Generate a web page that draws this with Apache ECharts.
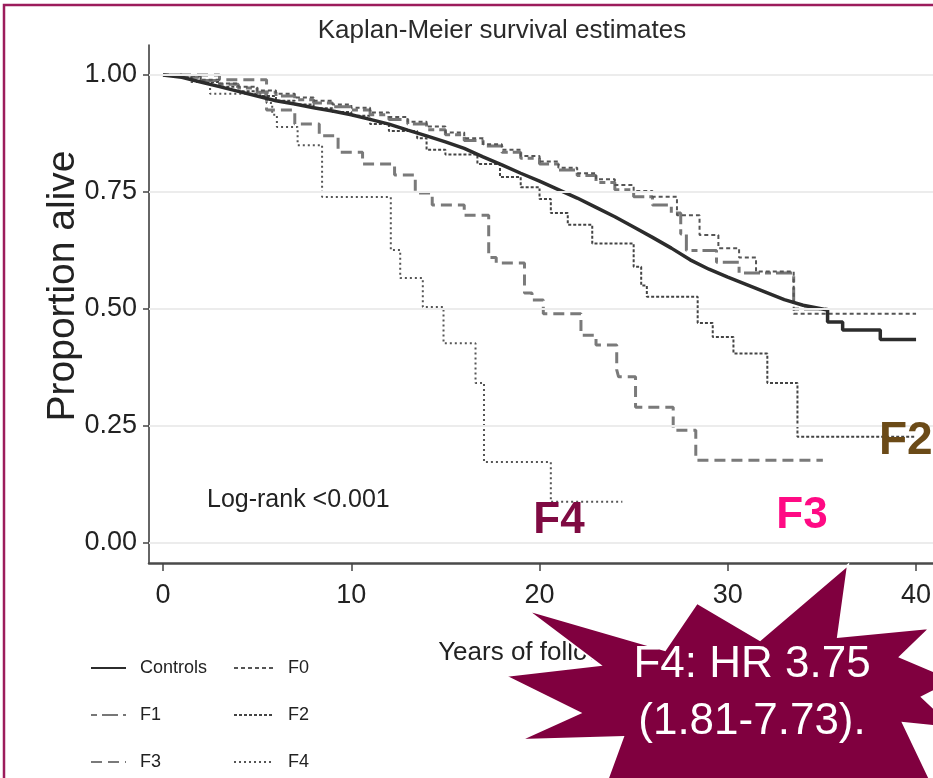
<!DOCTYPE html>
<html>
<head>
<meta charset="utf-8">
<script src="https://cdn.jsdelivr.net/npm/echarts@6/dist/echarts.min.js"></script>
<style>
html,body{margin:0;padding:0;background:#fff;}
#c{width:933px;height:778px;}
</style>
</head>
<body>
<div id="c"></div>
<script>
// ---- data ----
const xTicks = [0, 10, 20, 30, 40];
const yTicks = [0, 0.25, 0.5, 0.75, 1];
const seriesNames = ['Controls', 'F0', 'F1', 'F2', 'F3', 'F4'];

const controlsT = [0,1,2,3,4,5,6,7,8,9,10,11,12,13,14,15,16,17,18,19,20,21,22,23,24,25,26,27,28,29,30,31,32,33,34,35.3,35.3,36.1,36.1,38.1,38.1,40];
const controlsS = [1,0.995,0.985,0.975,0.965,0.955,0.945,0.938,0.93,0.923,0.915,0.905,0.895,0.882,0.87,0.857,0.843,0.825,0.808,0.79,0.773,0.755,0.737,0.717,0.697,0.675,0.653,0.63,0.605,0.585,0.568,0.552,0.536,0.52,0.508,0.498,0.472,0.472,0.455,0.455,0.435,0.435];

const f0T = [0,1,2,3,4,5,6,7,8,9,10,11,12,13,14,15,16,17,18,19,20,21,22,23,24,25,26,27.3,28.5,29.5,30.6,31.5,33.5,40];
const f0S = [1,0.997,0.99,0.982,0.975,0.967,0.96,0.952,0.945,0.937,0.93,0.92,0.91,0.9,0.89,0.877,0.865,0.852,0.84,0.827,0.815,0.802,0.79,0.777,0.765,0.752,0.74,0.70,0.658,0.63,0.61,0.58,0.49,0.49];

const f1T = [0,1,2,3,4,5,6,7,8,9,10,11,12,13,14,15,16,17,18,19,20,21,22,23,24,25,26,27,27.5,27.8,29.4,30.6,33.5,35.3];
const f1S = [1,0.995,0.988,0.98,0.972,0.963,0.955,0.947,0.94,0.932,0.925,0.915,0.905,0.895,0.883,0.872,0.86,0.848,0.835,0.822,0.81,0.797,0.785,0.77,0.755,0.74,0.722,0.705,0.66,0.625,0.60,0.577,0.50,0.50];

const f2T = [0,1,2,3,4,5,6,7,8,9,10,11,12,13.5,14,15,16.7,17.9,19,20,20.6,21.5,22.8,25.0,25.4,25.7,28.4,29.2,30.3,32.1,33.7,40];
const f2S = [1,0.995,0.985,0.975,0.965,0.955,0.945,0.937,0.929,0.921,0.913,0.895,0.88,0.865,0.84,0.83,0.81,0.782,0.76,0.735,0.705,0.68,0.64,0.59,0.55,0.526,0.47,0.44,0.405,0.342,0.227,0.227];

const f3T = [0,3,5.5,7,8.3,9.3,10.6,12.3,13.4,14.3,16,17.3,17.7,19.2,19.6,20.2,22.2,23.0,24.1,24.2,25.1,27.1,28.3,35.05];
const f3S = [1,0.99,0.925,0.895,0.87,0.835,0.81,0.786,0.748,0.722,0.70,0.61,0.598,0.534,0.519,0.49,0.444,0.423,0.37,0.355,0.29,0.241,0.177,0.177];

const f4T = [0,1.5,2.5,5.5,5.8,6.05,7.15,8.45,12.1,12.6,13.8,14.9,16.6,17.05,20.6,24.4];
const f4S = [1,0.985,0.96,0.94,0.915,0.889,0.85,0.739,0.626,0.566,0.504,0.427,0.342,0.173,0.088,0.088];

// ---- build ----
const FONT = '"Liberation Sans", Arial, sans-serif';
const zip = (t, s) => t.map((v, i) => [v, s[i]]);

function km(name, t, s, color, width, type, step) {
  return {
    name: name, type: 'line', data: zip(t, s), step: step ? 'end' : false,
    symbol: 'none', showSymbol: false, silent: true, animation: false,
    color: color,
    itemStyle: { color: color },
    lineStyle: { color: color, width: width, type: type, cap: 'butt' },
    z: 3
  };
}

function legendItem(name, left, top, w) {
  return {
    data: [name], orient: 'horizontal', left: left, top: top, padding: 0,
    itemWidth: w, itemHeight: 14, selectedMode: false,
    itemStyle: { opacity: 0, color: 'transparent', borderWidth: 0 },
    textStyle: { fontSize: 18, fontFamily: FONT, color: '#222', lineHeight: 18, padding: [0, 0, 0, 9] }
  };
}

const chart = echarts.init(document.getElementById('c'), null, { renderer: 'canvas' });

const starPts = [
  [527,610],[665,650],[697,603],[760,640],[848,565],[838,637],[930,628],[900,657],
  [955,680],[922,697],[955,728],[903,723],[935,790],[860,800],[760,830],[700,800],
  [600,800],[623,737],[520,740],[580,713],[505,676],[600,665]
];

const option = {
  backgroundColor: '#ffffff',
  animation: false,
  title: {
    text: 'Kaplan-Meier survival estimates',
    left: 497, top: 13, textAlign: 'center',
    textStyle: { fontFamily: FONT, fontSize: 26, fontWeight: 'normal', color: '#2a2a2a' }
  },
  grid: { left: 149, right: 0, top: 45, bottom: 215, containLabel: false, outerBoundsMode: 'none' },
  xAxis: {
    type: 'value', min: -0.744, max: 40.9,
    axisLine: { show: true, onZero: false, lineStyle: { color: '#4a4a4a', width: 2.5 } },
    axisTick: { show: true, length: 8, customValues: xTicks, lineStyle: { color: '#444', width: 1.5 } },
    axisLabel: { customValues: xTicks, fontSize: 27, fontFamily: FONT, color: '#222', margin: 19 },
    splitLine: { show: false },
    name: 'Years of follow-up', nameLocation: 'middle', nameGap: 77, nameMoveOverlap: false,
    nameTextStyle: { fontSize: 26, fontFamily: FONT, color: '#222' }
  },
  yAxis: {
    type: 'value', min: -0.0427, max: 1.064,
    axisLine: { show: true, onZero: false, lineStyle: { color: '#333', width: 1.5 } },
    axisTick: { show: true, length: 6, customValues: yTicks, lineStyle: { color: '#444', width: 1.5 } },
    axisLabel: { customValues: yTicks, fontSize: 27, fontFamily: FONT, color: '#222', margin: 12,
                 formatter: v => Number(v).toFixed(2) },
    splitLine: { show: false },
    name: 'Proportion alive', nameLocation: 'middle', nameGap: 66, nameRotate: 90, nameMoveOverlap: false,
    nameTextStyle: { fontSize: 39, fontFamily: FONT, color: '#222', padding: [0, 0, 0, 36] }
  },
  legend: [
    legendItem('Controls', 90, 659, 35),
    legendItem('F1', 90, 706, 35),
    legendItem('F3', 90, 753, 35),
    legendItem('F0', 233, 659, 40),
    legendItem('F2', 233, 706, 40),
    legendItem('F4', 233, 753, 40)
  ],
  series: [
    { name: 'gridlines', type: 'line', data: [], silent: true, z: 1,
      markLine: { silent: true, symbol: 'none', animation: false, label: { show: false },
        lineStyle: { color: '#ececec', width: 2, type: 'solid' },
        data: yTicks.map(v => ({ yAxis: v })) } },
    km('F4', f4T, f4S, '#555555', 2, [2, 3], true),
    km('F3', f3T, f3S, '#7a7a7a', 3, [11, 6], true),
    km('F2', f2T, f2S, '#444444', 2, [3, 2], true),
    km('F1', f1T, f1S, '#777777', 3, [6, 5, 16, 5], true),
    km('F0', f0T, f0S, '#555555', 2, [4, 3], true),
    km('Controls', controlsT, controlsS, '#2c2c2c', 3.5, 'solid', false)
  ],
  graphic: [
    { type: 'rect', shape: { x: 4, y: 5, width: 960, height: 800 }, z: 200, silent: true,
      style: { fill: 'none', stroke: '#9c1c5c', lineWidth: 2.5 } },
    { type: 'text', x: 207, y: 500, z: 50, silent: true,
      style: { text: 'Log-rank <0.001', fontSize: 25, fontFamily: FONT, fill: '#222',
               align: 'left', verticalAlign: 'middle', textAlign: 'left', textVerticalAlign: 'middle' } },
    { type: 'text', x: 559, y: 521, z: 50, silent: true,
      style: { text: 'F4', fontSize: 44, fontWeight: 'bold', fontFamily: FONT, fill: '#7f0a42',
               align: 'center', verticalAlign: 'middle', textAlign: 'center', textVerticalAlign: 'middle' } },
    { type: 'text', x: 802, y: 516, z: 50, silent: true,
      style: { text: 'F3', fontSize: 44, fontWeight: 'bold', fontFamily: FONT, fill: '#ff0a84',
               align: 'center', verticalAlign: 'middle', textAlign: 'center', textVerticalAlign: 'middle' } },
    { type: 'text', x: 879, y: 441, z: 50, silent: true,
      style: { text: 'F2', fontSize: 46, fontWeight: 'bold', fontFamily: FONT, fill: '#6b4a17',
               align: 'left', verticalAlign: 'middle', textAlign: 'left', textVerticalAlign: 'middle' } },
    { type: 'polygon', z: 100, silent: true, shape: { points: starPts },
      style: { fill: '#80003f', stroke: '#ffffff', lineWidth: 2 } },
    { type: 'text', x: 752, y: 665, z: 110, silent: true,
      style: { text: 'F4: HR 3.75', fontSize: 44, fontFamily: FONT, fill: '#ffffff',
               align: 'center', verticalAlign: 'middle', textAlign: 'center', textVerticalAlign: 'middle' } },
    { type: 'text', x: 752, y: 722, z: 110, silent: true,
      style: { text: '(1.81-7.73).', fontSize: 44, fontFamily: FONT, fill: '#ffffff',
               align: 'center', verticalAlign: 'middle', textAlign: 'center', textVerticalAlign: 'middle' } }
  ]
};
chart.setOption(option);
</script>
</body>
</html>
